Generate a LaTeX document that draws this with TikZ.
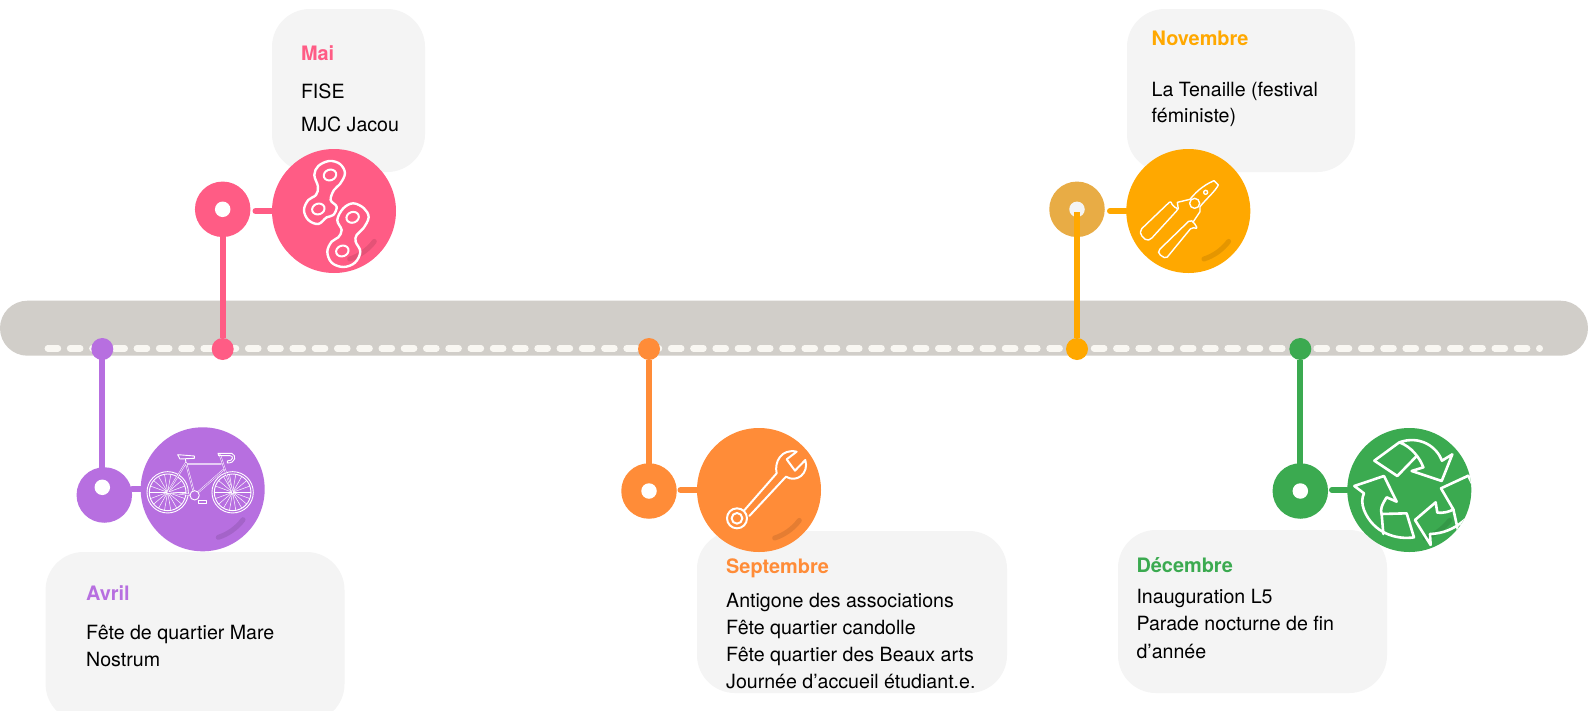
\documentclass[tikz,border=0pt]{standalone}
\usepackage{fontspec}
\setmainfont{TeX Gyre Heros}
\definecolor{cbar}{HTML}{D1CEC9}
\definecolor{cdash}{HTML}{F9F7F2}
\definecolor{cbox}{HTML}{F4F4F4}
\definecolor{cpink}{HTML}{FF5C85}
\definecolor{cpurple}{HTML}{B76FE0}
\definecolor{corange}{HTML}{FF8C38}
\definecolor{camber}{HTML}{FFA800}
\definecolor{cgreen}{HTML}{3BAA50}
\definecolor{cfaded}{HTML}{E8AC45}
\tikzset{
  tipdot/.style={circle,fill=#1,draw=none,minimum size=22pt,inner sep=0},
  ring/.style={circle,fill=#1,draw=none,minimum size=55.5pt,inner sep=0},
  hole/.style={circle,fill=white,draw=none,minimum size=15.5pt,inner sep=0},
  disc/.style={circle,fill=#1,draw=none,minimum size=124pt,inner sep=0},
  stem/.style={draw=#1,line width=6pt},
  link/.style={draw=#1,line width=6pt,line cap=round},
  shine/.style={draw=black,draw opacity=.1,line width=5pt,line cap=round},
  icon/.style={draw=white,line width=2pt,line join=round,line cap=round},
  thin icon/.style={draw=white,line width=.9pt,line join=round,line cap=round},
  card/.style={fill=cbox,draw=none,rounded corners=38pt},
  headtext/.style={anchor=west,inner sep=0,font=\fontsize{19.9}{22}\selectfont\bfseries,text=#1},
  bodytext/.style={anchor=north west,inner sep=0,align=left,font=\fontsize{19.6}{#1}\selectfont},
  zoomed/.style={x=.3333pt,y=-.3333pt},
}
\begin{document}
\begin{tikzpicture}[x=1pt,y=-1pt]
\useasboundingbox (0,0) rectangle (1588,710);
\fill[white] (0,0) rectangle (1588,710);
% bar
\fill[cbar,rounded corners=27.5pt] (0,300.7) rectangle (1588,355.7);
\draw[cdash,line width=6.4pt,line cap=round,dash pattern=on 10.2pt off 12.06pt] (47.8,348.3) -- (1539.8,348.3);
% cards
\begin{scope}
\clip (0,0) rectangle (1588,710);
\fill[card] (45.6,552) rectangle (344.5,722);
\end{scope}
\fill[card] (272,9) rectangle (425,172);
\fill[card] (1127,9) rectangle (1355,172);
\fill[card] (697,531) rectangle (1007,693);
\fill[card] (1118,530) rectangle (1387,693);
% april
\node[tipdot=cpurple] (dotA) at (102.3,349) {};
\node[ring=cpurple] (ringA) at (104.3,495) {};
\node[hole] (holeA) at (102.3,487.3) {};
\node[disc=cpurple] (discA) at (202.7,489.3) {};
\draw[stem=cpurple,shorten >=-1pt] (dotA.center) -- (dotA.center |- ringA.north);
\draw[link=cpurple] (discA.center -| ringA.east) -- (discA.west);
\draw[shine] (discA.center) ++(72:50.5) arc[start angle=72,end angle=37,radius=50.5];
% may
\node[tipdot=cpink] (dotB) at (222.7,349) {};
\node[ring=cpink] (ringB) at (222.7,209.3) {};
\node[hole] (holeB) at (222.7,209.3) {};
\node[disc=cpink] (discB) at (334,211) {};
\draw[stem=cpink,shorten >=-1pt] (dotB) -- (ringB.south);
\coordinate (fromB) at (255.5,211);
\draw[link=cpink] (fromB) -- (discB.west);
\draw[shine] (discB.center) ++(72:50.5) arc[start angle=72,end angle=37,radius=50.5];
% september
\node[tipdot=corange] (dotC) at (649,349) {};
\node[ring=corange] (ringC) at (649,491) {};
\node[hole] (holeC) at (649,491) {};
\node[disc=corange] (discC) at (759,490) {};
\draw[stem=corange,shorten >=-1pt] (dotC) -- (ringC.north);
\coordinate (fromC) at (680.5,490);
\draw[link=corange] (fromC) -- (discC.west);
\draw[shine] (discC.center) ++(72:50.5) arc[start angle=72,end angle=37,radius=50.5];
% november
\node[tipdot=camber] (dotD) at (1077,349) {};
\node[ring=cfaded] (ringD) at (1077,209.3) {};
\node[hole,fill=cbox] (holeD) at (1077,209.3) {};
\node[disc=camber] (discD) at (1188.3,211) {};
\coordinate (topD) at (1077,211.7);
\draw[stem=camber] (dotD) -- (topD);
\coordinate (fromD) at (1110,211);
\draw[link=camber] (fromD) -- (discD.west);
\draw[shine] (discD.center) ++(72:50.5) arc[start angle=72,end angle=37,radius=50.5];
% december
\node[tipdot=cgreen] (dotE) at (1300.3,349) {};
\node[ring=cgreen] (ringE) at (1300.3,491) {};
\node[hole] (holeE) at (1300.3,491) {};
\node[disc=cgreen] (discE) at (1409.3,490) {};
\draw[stem=cgreen,shorten >=-1pt] (dotE) -- (ringE.north);
\coordinate (fromE) at (1332,490);
\draw[link=cgreen] (fromE) -- (discE.west);
\draw[shine] (discE.center) ++(72:50.5) arc[start angle=72,end angle=37,radius=50.5];
% chain icon
\begin{scope}[shift={(180,140)},zoomed]
\draw[icon,line width=2.4pt] plot[smooth cycle,tension=.6] coordinates {(448,63) (480,72) (495,100) (480,132) (462,150) (452,180) (470,200) (460,225) (440,232) (415,252) (385,240) (372,210) (385,180) (408,165) (414,140) (403,105) (415,78)};
\draw[icon,line width=2.4pt] plot[smooth cycle,tension=.6] coordinates {(520,190) (552,205) (566,232) (550,265) (530,285) (527,305) (541,335) (525,368) (490,381) (455,368) (442,335) (455,305) (475,292) (485,270) (472,240) (490,205)};
\foreach \hx/\hy in {450/105,415/207,518/232,487/333}
  \draw[icon,line width=2pt,rotate around={20:(\hx,\hy)}] (\hx,\hy) ellipse [x radius=19,y radius=16];
\end{scope}
% pliers icon
\begin{scope}[shift={(1020,140)},zoomed,icon/.append style={line width=1.4pt}]
\draw[icon,rounded corners=2pt] (452,183) -- (361,270) -- (362,285) -- (380,302) -- (392,298) -- (475,207) -- (458,198) -- cycle;
\draw[icon,rounded corners=2pt] (510,240) -- (415,332) -- (416,342) -- (438,356) -- (515,262) -- (533,266) -- (520,245) -- cycle;
\draw[icon] (475,207) -- (472,187) -- (510,178) .. controls (525,160) and (545,138) .. (582,122) -- (595,135) .. controls (585,155) and (560,175) .. (540,200) -- (540,215) -- (520,245);
\draw[icon] (524,190) circle [radius=15];
\draw[icon] (557,157) circle [radius=6];
\end{scope}
% wrench icon
\begin{scope}[shift={(600,420)},zoomed]
\draw[icon] (411,295) circle [radius=30];
\draw[icon] (411,295) circle [radius=16];
\draw[icon] (432,272) -- (530,160) .. controls (522,125) and (545,85) .. (590,95) -- (560,118) -- (585,152) -- (616,120) .. controls (628,160) and (590,190) .. (558,170) -- (448,288);
\end{scope}
% bike icon
\begin{scope}[shift={(60,280)},zoomed]
\foreach \wx in {323,518}{
  \draw[thin icon] (\wx,637) circle [radius=62];
  \draw[thin icon] (\wx,637) circle [radius=55];
  \foreach \a in {0,20,...,340}{ \draw[thin icon,line width=.5pt] (\wx,637) -- ++(\a:55); }
}
\draw[thin icon,double=cpurple,double distance=.8pt,line width=.5pt] (378,548) -- (404,646) -- (323,637) -- (378,548) (383,552) -- (482,552) (490,570) -- (404,646) (480,525) -- (518,638);
\draw[thin icon,fill=cpurple] (404,646) circle [radius=14];
\draw[thin icon] (353,524) -- (403,528) -- (403,535) -- (360,537) -- cycle;
\draw[thin icon] (376,537) -- (378,548);
\draw[thin icon] (474,520) -- (515,520) .. controls (530,525) and (528,550) .. (502,549) -- (502,543) .. controls (520,543) and (522,527) .. (510,527) -- (476,527) -- cycle;
\draw[thin icon] (416,662) -- (438,662) -- (438,669) -- (416,669) -- cycle;
\end{scope}
% recycle icon
\begin{scope}
\clip (discE.center) circle [radius=62];
\begin{scope}[shift={(1240,410)},zoomed,icon/.append style={line width=2.6pt}]
\draw[icon] (403,152) -- (478,97) .. controls (540,75) and (590,110) .. (606,152) -- (637,133) -- (605,213) -- (515,183) -- (550,172) .. controls (540,145) and (515,110) .. (478,97);
\draw[icon] (530,138) -- (472,198) -- (403,152);
\draw[icon] (343,228) -- (432,198) -- (470,275) -- (440,262) .. controls (425,285) and (420,300) .. (425,312) -- (500,310) -- (522,382) .. controls (470,390) and (400,370) .. (372,300) .. controls (365,280) and (365,265) .. (372,250) -- cycle;
\draw[icon] (425,312) -- (430,372);
\draw[icon] (603,235) -- (685,197) -- (720,270) .. controls (700,310) and (650,370) .. (570,372) -- (572,405) -- (525,330) -- (587,277) -- (592,308) .. controls (610,310) and (630,305) .. (640,298) -- cycle;
\draw[icon] (640,298) -- (655,365);
\end{scope}
\end{scope}
% texts
\node[headtext=cpink] (tMai) at (300.8,53.2) {Mai};
\node[bodytext=32.4pt] (bMai) at (300.8,84) {FISE\\MJC Jacou};
\node[headtext=camber] (tNov) at (1151.5,38.8) {Novembre};
\node[bodytext=26.5pt] (bNov) at (1151.5,81.5) {La Tenaille (festival\\féministe)};
\node[headtext=cpurple] (tAvr) at (86,593.5) {Avril};
\node[bodytext=27pt] (bAvr) at (86,625) {Fête de quartier Mare\\Nostrum};
\node[headtext=corange] (tSep) at (726,568.5) {Septembre};
\node[bodytext=27pt] (bSep) at (726,593) {Antigone des associations\\Fête quartier candolle\\Fête quartier des Beaux arts\\Journée d’accueil étudiant.e.};
\node[headtext=cgreen] (tDec) at (1136.3,565.5) {Décembre};
\node[bodytext=27.3pt] (bDec) at (1136.3,589) {Inauguration L5\\Parade nocturne de fin\\d’année};
\end{tikzpicture}
\end{document}
